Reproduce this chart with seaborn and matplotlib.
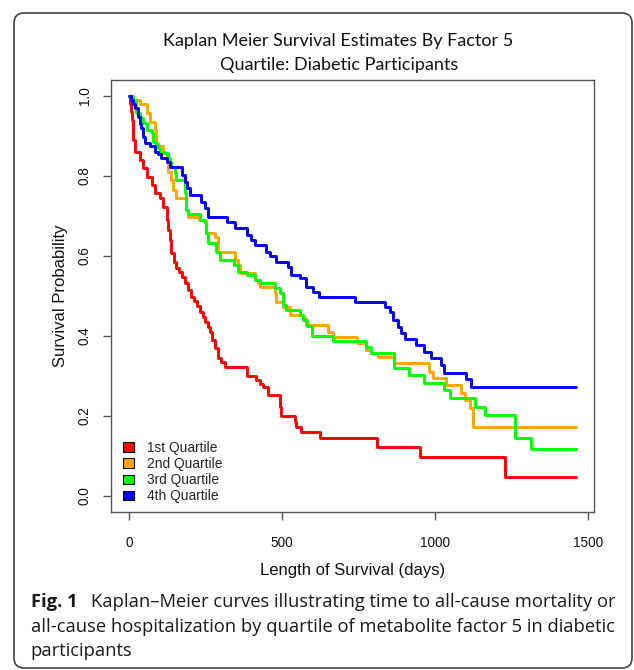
import matplotlib
matplotlib.use("Agg")
import matplotlib.pyplot as plt
import seaborn as sns
import pandas as pd
from matplotlib.patches import FancyBboxPatch, Patch
from matplotlib.transforms import IdentityTransform

# ---------------- data ----------------
quartiles = ["1st Quartile", "2nd Quartile", "3rd Quartile", "4th Quartile"]
colors = ["#FF0000", "#FFA500", "#00FF00", "#0000FF"]
end_day = 1460

q1_days = [0, 3, 6, 9, 12, 14, 20, 36, 47, 58, 74, 85, 101, 112, 123, 128, 134, 139, 146, 155,
           163, 172, 183, 193, 204, 214, 222, 231, 242, 250, 259, 265, 270, 280, 291, 300, 313,
           384, 416, 428, 438, 454, 492, 497, 541, 547, 563, 623, 810, 949, 1228]
q1_surv = [1.0, 0.98, 0.96, 0.94, 0.91, 0.89, 0.861, 0.84, 0.819, 0.798, 0.777, 0.757, 0.744,
           0.723, 0.69, 0.665, 0.64, 0.607, 0.586, 0.57, 0.561, 0.548, 0.532, 0.515, 0.498,
           0.488, 0.475, 0.461, 0.448, 0.436, 0.423, 0.41, 0.39, 0.369, 0.344, 0.334, 0.323,
           0.30, 0.29, 0.281, 0.273, 0.252, 0.223, 0.2, 0.186, 0.173, 0.161, 0.144, 0.122,
           0.097, 0.048]

q2_days = [0, 14, 36, 58, 68, 85, 90, 95, 112, 123, 128, 139, 144, 153, 188, 193, 229, 251, 253,
           280, 291, 346, 356, 364, 411, 422, 427, 476, 479, 503, 525, 568, 579, 650, 666, 745,
           775, 790, 813, 864, 981, 992, 1036, 1085, 1096, 1112, 1125]
q2_surv = [1.0, 0.99, 0.98, 0.957, 0.936, 0.915, 0.882, 0.875, 0.858, 0.85, 0.811, 0.79, 0.765,
           0.744, 0.715, 0.698, 0.69, 0.673, 0.657, 0.648, 0.611, 0.59, 0.578, 0.557, 0.54,
           0.532, 0.523, 0.507, 0.486, 0.473, 0.4525, 0.444, 0.4275, 0.411, 0.398, 0.382,
           0.365, 0.357, 0.348, 0.332, 0.311, 0.294, 0.2775, 0.257, 0.24, 0.219, 0.173]

q3_days = [0, 14, 23, 36, 47, 58, 74, 79, 90, 95, 101, 117, 128, 134, 139, 150, 155, 183, 188,
           193, 232, 248, 253, 259, 286, 297, 342, 356, 384, 411, 427, 476, 492, 503, 514, 557,
           568, 580, 599, 666, 775, 791, 867, 916, 965, 1030, 1047, 1130, 1163, 1262, 1313]
q3_surv = [1.0, 0.99, 0.957, 0.944, 0.932, 0.915, 0.907, 0.886, 0.877, 0.87, 0.861, 0.857,
           0.844, 0.835, 0.823, 0.807, 0.79, 0.757, 0.715, 0.705, 0.69, 0.682, 0.657, 0.633,
           0.611, 0.59, 0.578, 0.561, 0.5525, 0.54, 0.532, 0.519, 0.507, 0.4775, 0.465,
           0.4525, 0.44, 0.426, 0.401, 0.388, 0.373, 0.357, 0.321, 0.3025, 0.283, 0.265,
           0.244, 0.223, 0.2025, 0.144, 0.117]

q4_days = [0, 7, 14, 20, 30, 36, 41, 47, 52, 68, 85, 95, 106, 123, 134, 172, 183, 190, 199, 237,
           248, 259, 319, 346, 384, 400, 411, 449, 460, 481, 519, 530, 557, 579, 601, 620, 737,
           835, 851, 862, 878, 889, 903, 938, 962, 987, 1020, 1030, 1101, 1117]
q4_surv = [1.0, 0.99, 0.98, 0.969, 0.948, 0.93, 0.919, 0.898, 0.882, 0.875, 0.861, 0.855,
           0.844, 0.836, 0.823, 0.8025, 0.786, 0.77, 0.7525, 0.736, 0.719, 0.698, 0.686,
           0.669, 0.6525, 0.64, 0.6275, 0.611, 0.60, 0.586, 0.573, 0.5525, 0.544, 0.523,
           0.511, 0.498, 0.486, 0.473, 0.461, 0.44, 0.423, 0.407, 0.392, 0.3775, 0.361,
           0.344, 0.3275, 0.308, 0.292, 0.273]

x_ticks = [0, 500, 1000, 1500]
y_ticks = [0.0, 0.2, 0.4, 0.6, 0.8, 1.0]
y_tick_labels = ["0.0", "0.2", "0.4", "0.6", "0.8", "1.0"]

title_lines = ["Kaplan Meier Survival Estimates By Factor 5", "Quartile: Diabetic Participants"]
x_label = "Length of Survival (days)"
y_label = "Survival Probability"
caption_bold = "Fig. 1"
caption_lines = ["Kaplan\u2013Meier curves illustrating time to all-cause mortality or",
                 "all-cause hospitalization by quartile of metabolite factor 5 in diabetic",
                 "participants"]

# ---------------- table ----------------
rows = []
for name, days, surv in zip(quartiles, [q1_days, q2_days, q3_days, q4_days],
                            [q1_surv, q2_surv, q3_surv, q4_surv]):
    for d, s in zip(days + [end_day], surv + [surv[-1]]):
        rows.append({"days": d, "surv": s, "quartile": name})
df = pd.DataFrame(rows)

# ---------------- figure ----------------
sns.set_style("white")
plt.rcParams["font.family"] = ["Liberation Sans", "DejaVu Sans"]

W, H = 634, 670
fig = plt.figure(figsize=(W / 100, H / 100), dpi=100, facecolor="white")
ax = fig.add_axes([111 / W, 1 - 512 / H, (594 - 111) / W, (512 - 80) / H])

sns.lineplot(data=df, x="days", y="surv", hue="quartile", hue_order=quartiles,
             palette=colors, estimator=None, sort=False, drawstyle="steps-post",
             linewidth=2.1, legend=False, ax=ax)

ax.set_xlim(-0.04 * end_day, 1.04 * end_day)
ax.set_ylim(-0.04, 1.04)
ax.set_xticks(x_ticks)
ax.set_xticklabels([str(t) for t in x_ticks])
ax.set_yticks(y_ticks)
ax.set_yticklabels(y_tick_labels, rotation=90, va="center")

spine_col = "#555555"
for sp in ax.spines.values():
    sp.set_visible(True)
    sp.set_color(spine_col)
    sp.set_linewidth(1.0)

ax.tick_params(axis="both", which="major", length=5.8, width=1.0, color=spine_col,
               labelsize=9.8, labelcolor="#111111", direction="out")
ax.tick_params(axis="x", pad=11.2, bottom=True)
ax.tick_params(axis="y", pad=8.2, left=True)

ax.set_xlabel(x_label, fontsize=12, color="#111111")
ax.set_ylabel(y_label, fontsize=12, color="#111111")
ax.xaxis.set_label_coords(0.5, (512 - 563) / 432)
ax.yaxis.set_label_coords((67.5 - 111) / 483, 0.5)

handles = [Patch(facecolor=c, edgecolor="black", linewidth=0.8, label=q)
           for c, q in zip(colors, quartiles)]
ax.legend(handles=handles, loc="lower left", bbox_to_anchor=(12 / 483, 9 / 432),
          frameon=False, handlelength=0.8, handleheight=0.65, handletextpad=0.94,
          labelspacing=0.15, borderpad=0, borderaxespad=0,
          prop={"family": "Liberation Sans", "size": 9.9})

# ---------------- title & caption ----------------
renderer = fig.canvas.get_renderer()


def fit_width(txt, target_px):
    w = txt.get_window_extent(renderer).width
    txt.set_fontsize(txt.get_fontsize() * target_px / w)


t1 = fig.text(338 / W, 1 - 46 / H, title_lines[0], ha="center", va="baseline",
              family="Lato", fontsize=13, color="#111111")
fit_width(t1, 349)
t2 = fig.text(339 / W, 1 - 70 / H, title_lines[1], ha="center", va="baseline",
              family="Lato", fontsize=t1.get_fontsize(), color="#111111")

c2 = fig.text(30.7 / W, 1 - 632 / H, caption_lines[1], ha="left", va="baseline",
              family="Open Sans", fontsize=13, color="#1a1a1a")
fit_width(c2, 579.5)
cs = c2.get_fontsize()
cb = fig.text(30.7 / W, 1 - 607 / H, caption_bold, ha="left", va="baseline",
              family="Open Sans", fontweight="bold", fontsize=cs, color="#1a1a1a")
c1 = fig.text(91 / W, 1 - 607 / H, caption_lines[0], ha="left", va="baseline",
              family="Open Sans", fontsize=cs, color="#1a1a1a")
c3 = fig.text(30.7 / W, 1 - 656.5 / H, caption_lines[2], ha="left", va="baseline",
              family="Open Sans", fontsize=cs, color="#1a1a1a")

frame = FancyBboxPatch((14, 2), 618, 655, boxstyle="round,pad=0,rounding_size=10",
                       transform=IdentityTransform(), fill=False,
                       edgecolor="#444444", linewidth=1.2)
fig.add_artist(frame)

fig.savefig("out.png", dpi=100, facecolor="white")
